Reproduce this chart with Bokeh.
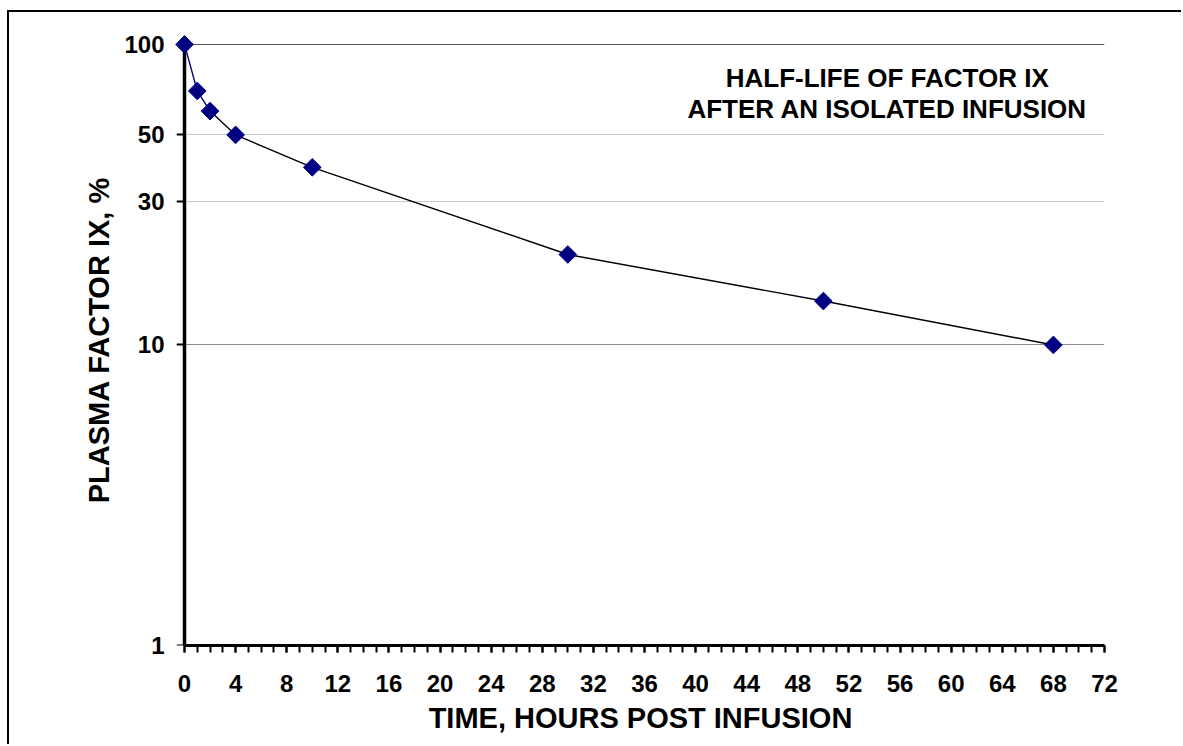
from bokeh.plotting import figure
from bokeh.models import (Range1d, FixedTicker, SingleIntervalTicker, Grid, Label, LogAxis)
from bokeh.embed import file_html
from bokeh.resources import INLINE

# ---- data ----
hours = [0, 1, 2, 4, 10, 30, 50, 68]
factor_ix = [100, 70, 60, 50, 39, 20, 14, 10]
y_ticks = [1, 10, 30, 50, 100]
title_lines = ["HALF-LIFE OF FACTOR IX", "AFTER AN ISOLATED INFUSION"]
x_title = "TIME, HOURS POST INFUSION"
y_title = "PLASMA FACTOR IX, %"

FONT = "Liberation Sans"

p = figure(width=1174, height=734, output_backend="svg", toolbar_location=None,
           x_range=Range1d(-0.626, 72), y_range=Range1d(1, 107.9),
           y_axis_type="log",
           min_border_left=167, min_border_right=79, min_border_top=22, min_border_bottom=101,
           background_fill_color="white", border_fill_color="white")
p.styles = {"margin-left": "7px", "margin-top": "10px",
            "border-left": "2px solid black", "border-top": "2px solid black"}
p.outline_line_color = None
p.xgrid.visible = False
p.ygrid.visible = False

# grid lines (different greys as in reference)
for ticks, col in (([30, 50], "#c8c8c8"), ([10], "#8a8a8a"), ([100], "#555555")):
    g = Grid(dimension=1, ticker=FixedTicker(ticks=ticks), grid_line_color=col, grid_line_width=1)
    p.add_layout(g)

# x axis
xa = p.xaxis[0]
xa.ticker = SingleIntervalTicker(interval=4, num_minor_ticks=4)
xa.bounds = (0, 72)
xa.axis_line_color = "black"
xa.axis_line_width = 3
xa.major_tick_line_width = 2
xa.minor_tick_line_width = 2
xa.major_tick_line_color = "black"
xa.minor_tick_line_color = "black"
xa.major_tick_in = 0
xa.major_tick_out = 7
xa.minor_tick_in = 0
xa.minor_tick_out = 7
xa.major_label_standoff = 22
xa.major_label_text_font = FONT
xa.major_label_text_font_style = "bold"
xa.major_label_text_font_size = "24px"
xa.major_label_text_color = "black"
xa.axis_label = x_title
xa.axis_label_text_font = FONT
xa.axis_label_text_font_style = "bold"
xa.axis_label_text_font_size = "29px"
xa.axis_label_text_color = "black"
xa.axis_label_standoff = 7

# y axis line + ticks placed at x = 0
ya = p.yaxis[0]
ya.ticker = FixedTicker(ticks=y_ticks)
ya.fixed_location = 0
ya.bounds = (1, 100)
ya.axis_line_color = "black"
ya.axis_line_width = 3.5
ya.major_tick_line_width = 2
ya.major_tick_line_color = "black"
ya.major_tick_in = 0
ya.major_tick_out = 8
ya.minor_tick_line_color = None
ya.major_label_text_color = None
ya.major_label_text_font_size = "1px"

# y axis labels + title
yl = LogAxis(ticker=FixedTicker(ticks=y_ticks))
yl.axis_line_color = None
yl.major_tick_line_color = None
yl.minor_tick_line_color = None
yl.major_tick_in = 0
yl.major_tick_out = 0
yl.major_label_standoff = 12
yl.major_label_text_font = FONT
yl.major_label_text_font_style = "bold"
yl.major_label_text_font_size = "24px"
yl.major_label_text_color = "black"
yl.axis_label = y_title
yl.axis_label_text_font = FONT
yl.axis_label_text_font_style = "bold"
yl.axis_label_text_font_size = "29px"
yl.axis_label_text_color = "black"
yl.axis_label_standoff = 6
p.add_layout(yl, "left")

# series line (steep first part appears navy in the reference)
p.line(hours[:3], factor_ix[:3], line_color="#000080", line_width=1.4)
p.line(hours[2:], factor_ix[2:], line_color="black", line_width=1.4)
r = p.scatter(hours, factor_ix, marker="square", angle=0.7853981634, size=12.5,
              fill_color="#000080", line_color="#000080")
r.level = "overlay"

# title
for txt, yv in zip(title_lines, [77.6, 61.2]):
    p.add_layout(Label(x=55.0, y=yv, text=txt, text_align="center", text_baseline="middle",
                       text_font=FONT, text_font_style="bold", text_font_size="26px",
                       text_color="black"))

open("out.html", "w").write(file_html(p, INLINE))
